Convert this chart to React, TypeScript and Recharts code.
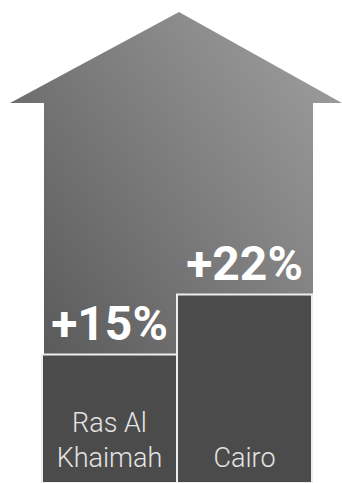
import * as Recharts from "recharts";

const { BarChart, Bar, XAxis, YAxis, LabelList } = Recharts as any;

const cities = ["Ras Al Khaimah", "Cairo"];
const growth = [15, 22];
const growthLabels = ["+15%", "+22%"];

const data = cities.map((city, i) => ({ city, growth: growth[i], label: growthLabels[i] }));

const W = 342;
const H = 483;
const margin = { top: 12, right: 30, bottom: 0, left: 42 };

// the house-shaped arrow behind the bars
const ArrowBackground = () => {
  const hook = (Recharts as any).usePlotArea;
  const area = hook ? hook() : null;
  const p = area || {
    x: margin.left,
    y: margin.top,
    width: W - margin.left - margin.right,
    height: H - margin.top - margin.bottom,
  };
  const left = p.x + 2;
  const right = p.x + p.width + 1;
  const wingY = p.y + 91;
  const apexX = p.x + p.width / 2 + 2;
  const d = [
    `M${apexX},${p.y}`,
    `L${W},${wingY}`,
    `L${right},${wingY}`,
    `L${right},${p.y + p.height}`,
    `L${left},${p.y + p.height}`,
    `L${left},${wingY}`,
    `L${p.x - 32},${wingY}`,
    "Z",
  ].join(" ");
  return (
    <g>
      <defs>
        <linearGradient id="arrowGrad" x1="0" y1="1" x2="1" y2="0">
          <stop offset="0%" stopColor="#4a4a4a" />
          <stop offset="100%" stopColor="#a2a2a2" />
        </linearGradient>
      </defs>
      <path d={d} fill="url(#arrowGrad)" />
    </g>
  );
};

const CityLabel = (props: any) => {
  const { x, y, width, height, value } = props;
  const text = String(value);
  let lines = [text];
  if (text.length > 8) {
    const cut = text.lastIndexOf(" ");
    lines = [text.slice(0, cut), text.slice(cut + 1)];
  }
  const cx = x + width / 2;
  const bottom = y + height - 16;
  return (
    <text
      textAnchor="middle"
      fill="#e4e4e4"
      fontSize={27}
      fontWeight={300}
      fontFamily="Roboto, 'Noto Sans', sans-serif"
    >
      {lines.map((l, i) => (
        <tspan key={l} x={cx} y={bottom - (lines.length - 1 - i) * 35}>
          {l}
        </tspan>
      ))}
    </text>
  );
};

export default function App() {
  return (
    <div style={{ position: "absolute", left: 0, top: 0, width: W, height: H, background: "#ffffff" }}>
      <BarChart width={W} height={H} data={data} margin={margin} barCategoryGap={0}>
        <ArrowBackground />
        <XAxis dataKey="city" hide />
        <YAxis hide domain={[0, 55]} />
        <Bar dataKey="growth" fill="#4b4b4b" stroke="#eeeeee" strokeWidth={2} isAnimationActive={false}>
          <LabelList
            dataKey="label"
            position="top"
            offset={15}
            fill="#ffffff"
            fontSize={48}
            fontWeight={700}
            fontFamily="Roboto, 'Noto Sans', sans-serif"
          />
          <LabelList dataKey="city" content={CityLabel} />
        </Bar>
      </BarChart>
    </div>
  );
}
